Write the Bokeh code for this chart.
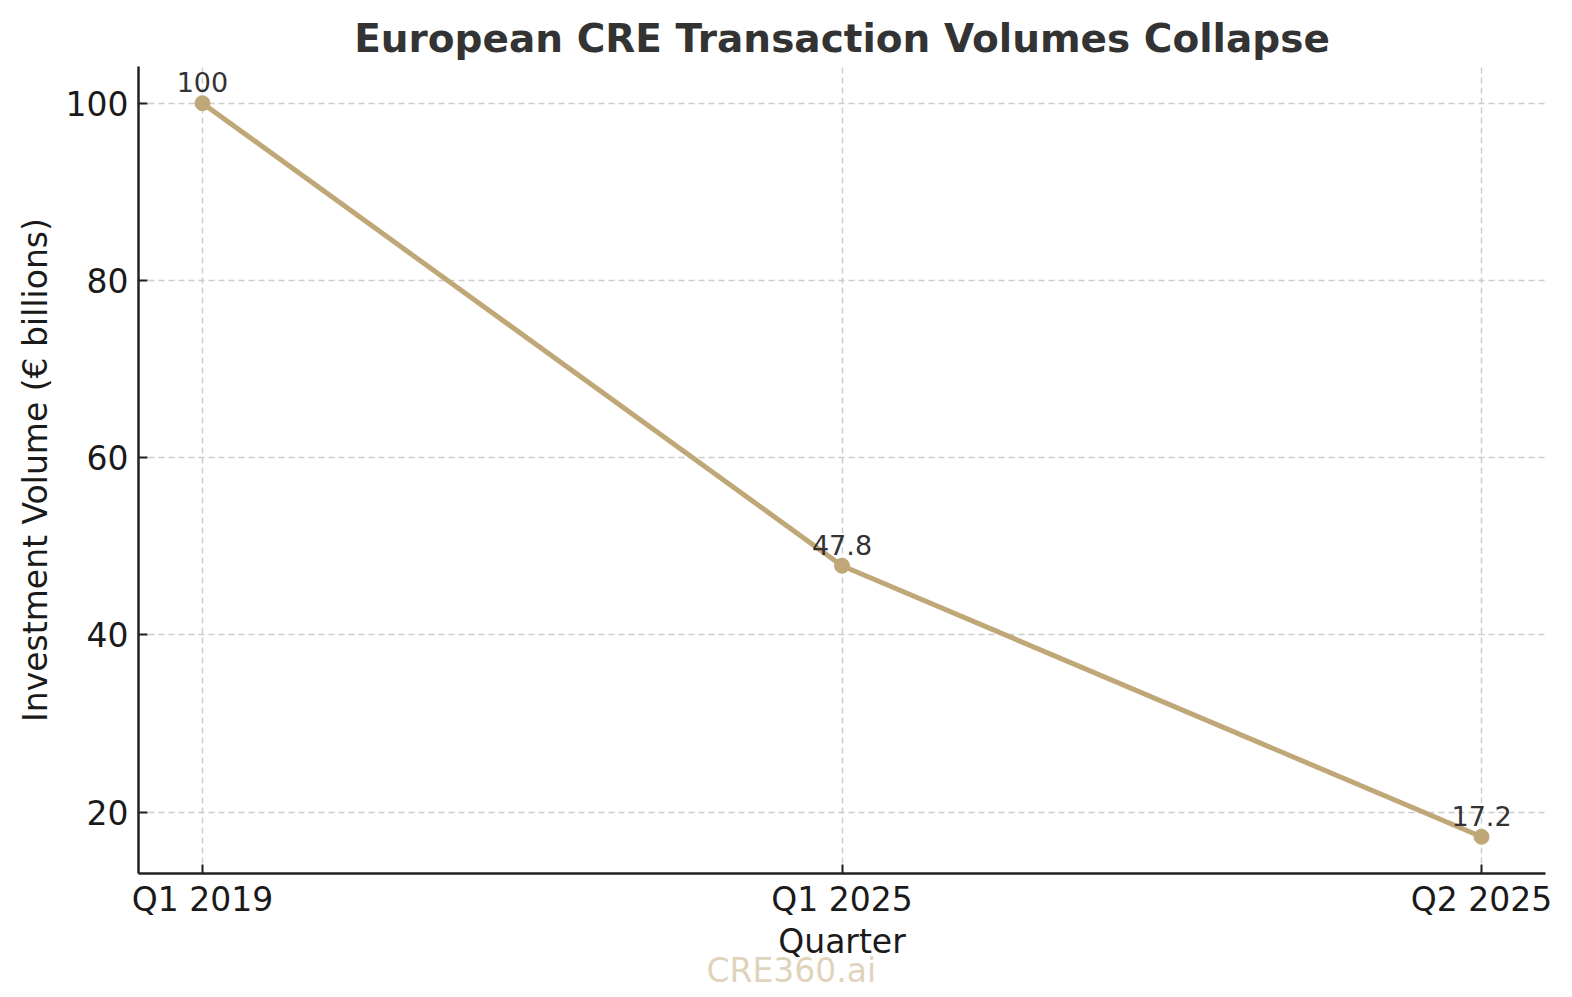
from bokeh.plotting import figure
from bokeh.models import ColumnDataSource, FixedTicker, Title
from bokeh.core.properties import value
from bokeh.embed import file_html
from bokeh.resources import INLINE

# data
quarters = ["Q1 2019", "Q1 2025", "Q2 2025"]
volumes = [100, 47.8, 17.2]
labels = ["100", "47.8", "17.2"]
y_ticks = [20, 40, 60, 80, 100]

LINE = "#c0a777"
FONT = "DejaVu Sans"

xs = list(range(len(quarters)))
src = ColumnDataSource(data=dict(x=xs, y=volumes, lab=labels))

p = figure(width=1556, height=990, x_range=(-0.1, 2.1), y_range=(13.06, 104.14),
           output_backend="svg", toolbar_location=None,
           min_border_left=138, min_border_right=11, min_border_top=66,
           min_border_bottom=117,
           title="European CRE Transaction Volumes Collapse")

p.line("x", "y", source=src, line_color=LINE, line_width=5)
p.scatter("x", "y", source=src, size=15, fill_color=LINE, line_color=LINE)
p.text("x", "y", text="lab", source=src, text_align="center", text_baseline="bottom",
       y_offset=-11, text_font_size="27px", text_color="#333333",
       text_font=value(FONT))

# title
p.title.text_font = FONT
p.title.text_font_size = "39px"
p.title.text_font_style = "bold"
p.title.text_color = "#333333"
p.title.align = "center"
p.title.standoff = 12

p.outline_line_color = None

# axes
p.xaxis.ticker = FixedTicker(ticks=xs)
p.xaxis.major_label_overrides = {i: q for i, q in enumerate(quarters)}
p.yaxis.ticker = FixedTicker(ticks=y_ticks)
p.xaxis.axis_label = "Quarter"
p.yaxis.axis_label = "Investment Volume (€ billions)"
for ax in (p.xaxis, p.yaxis):
    ax.axis_line_color = "#222222"
    ax.axis_line_width = 2.5
    ax.major_tick_line_color = "#222222"
    ax.major_tick_line_width = 2
    ax.major_tick_in = 9
    ax.major_tick_out = 0
    ax.minor_tick_line_color = None
    ax.major_label_text_font = FONT
    ax.major_label_text_font_size = "33px"
    ax.major_label_text_color = "#1a1a1a"
    ax.axis_label_text_font = FONT
    ax.axis_label_text_font_size = "33px"
    ax.axis_label_text_font_style = "normal"
    ax.axis_label_text_color = "#1a1a1a"
p.xaxis.major_label_standoff = 6
p.xaxis.axis_label_standoff = 0
p.yaxis.major_label_standoff = 10
p.yaxis.axis_label_standoff = 8

# grid
p.grid.grid_line_color = "#cccccc"
p.grid.grid_line_dash = "6 4"
p.grid.grid_line_width = 1.5

# watermark
wm = Title(text="CRE360.ai", align="left", offset=568, standoff=-30,
           text_font=FONT, text_font_size="33px", text_font_style="normal",
           text_color=LINE, text_alpha=0.5)
p.add_layout(wm, "below")

open("out.html", "w").write(file_html(p, INLINE))
